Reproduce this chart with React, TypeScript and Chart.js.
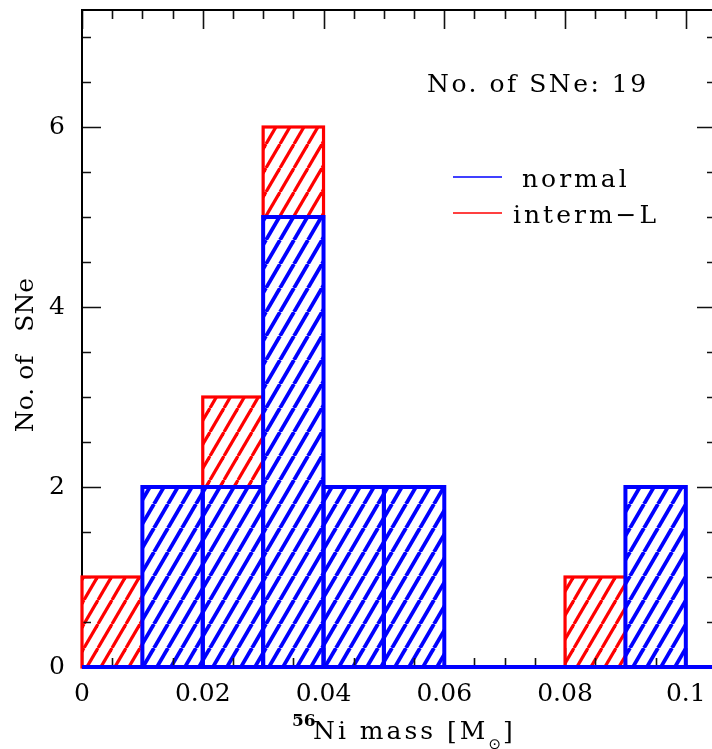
import React, { useEffect, useRef } from "react";
import { Chart, registerables } from "chart.js";

Chart.register(...registerables);

// ---- data ----
const binCenters = [0.005, 0.015, 0.025, 0.035, 0.045, 0.055, 0.065, 0.075, 0.085, 0.095];
const normalCounts = [0, 2, 2, 5, 2, 2, 0, 0, 0, 2];
const intermLCounts = [1, 0, 1, 1, 0, 0, 0, 0, 1, 0];
const xTickValues = [0, 0.02, 0.04, 0.06, 0.08, 0.1];
const xTickLabels = ["0", "0.02", "0.04", "0.06", "0.08", "0.1"];
const yTickValues = [0, 2, 4, 6];
const yTickLabels = ["0", "2", "4", "6"];
const seriesNames = ["normal", "interm\u2212L"];
const totalLabel = "No. of SNe: 19";
const yTitle = "No. of   SNe";

const X_MIN = 0;
const X_MAX = 0.105;
const Y_MIN = 0;
const Y_MAX = 7.3;
const X_MINOR = 0.005;
const Y_MINOR = 0.5;

const BLUE = "#0000ff";
const RED = "#ff0000";
const SERIF = "'DejaVu Serif', serif";

function makeHatch(color: string, lw: number): CanvasPattern | string {
  const c = document.createElement("canvas");
  c.width = 14;
  c.height = 24;
  const g = c.getContext("2d");
  if (!g) return color;
  g.strokeStyle = color;
  g.lineWidth = lw;
  for (const dx of [-14, 0, 14]) {
    g.beginPath();
    g.moveTo(dx, 24);
    g.lineTo(dx + 14, 0);
    g.stroke();
  }
  return g.createPattern(c, "repeat") || color;
}

const framePlugin = {
  id: "frameAndOutlines",
  afterDatasetsDraw(chart: any) {
    const ctx = chart.ctx as CanvasRenderingContext2D;
    const xs = chart.scales.x;
    const ys = chart.scales.y;
    const { left, right, top, bottom } = chart.chartArea;
    ctx.save();
    // ticks
    ctx.strokeStyle = "#111";
    ctx.lineWidth = 1.6;
    const nx = Math.round((X_MAX - X_MIN) / X_MINOR);
    for (let i = 0; i <= nx; i++) {
      const v = X_MIN + i * X_MINOR;
      const px = Math.round(xs.getPixelForValue(v)) + 0.5;
      const L = i % 4 === 0 ? 19 : 9;
      ctx.beginPath();
      ctx.moveTo(px, bottom);
      ctx.lineTo(px, bottom - L);
      ctx.moveTo(px, top);
      ctx.lineTo(px, top + L);
      ctx.stroke();
    }
    const ny = Math.floor((Y_MAX - Y_MIN) / Y_MINOR);
    for (let i = 0; i <= ny; i++) {
      const v = Y_MIN + i * Y_MINOR;
      const py = Math.round(ys.getPixelForValue(v)) + 0.5;
      const L = i % 4 === 0 ? 19 : 9;
      ctx.beginPath();
      ctx.moveTo(left, py);
      ctx.lineTo(left + L, py);
      ctx.moveTo(right, py);
      ctx.lineTo(right - L, py);
      ctx.stroke();
    }
    // frame
    ctx.strokeStyle = "#000";
    ctx.lineWidth = 2;
    ctx.strokeRect(left, top, right - left, bottom - top);

    // outlines: red first, then blue on top
    const order = [1, 0];
    const colors = [BLUE, RED];
    const widths = [4, 3.2];
    for (const di of order) {
      const meta = chart.getDatasetMeta(di);
      ctx.strokeStyle = colors[di];
      ctx.lineWidth = widths[di];
      meta.data.forEach((el: any, i: number) => {
        const raw = chart.data.datasets[di].data[i] as any;
        if (!raw || !raw.y) return;
        const p = el.getProps(["x", "y", "base", "width"], true);
        ctx.strokeRect(p.x - p.width / 2, p.y, p.width, p.base - p.y);
      });
    }
    // blue baseline of the "normal" histogram
    const y0 = ys.getPixelForValue(0);
    ctx.strokeStyle = BLUE;
    ctx.lineWidth = 4;
    ctx.beginPath();
    ctx.moveTo(left, y0);
    ctx.lineTo(right, y0);
    ctx.stroke();
    ctx.restore();
  },
};

function spaced(ctx: any, text: string, x: number, y: number, ls: number) {
  ctx.letterSpacing = ls + "px";
  ctx.fillText(text, x, y);
  const w = ctx.measureText(text).width;
  ctx.letterSpacing = "0px";
  return w;
}

const textPlugin = {
  id: "texts",
  afterDraw(chart: any) {
    const ctx = chart.ctx as any;
    ctx.save();
    ctx.fillStyle = "#000";
    ctx.textAlign = "left";
    ctx.textBaseline = "alphabetic";
    ctx.font = `25px ${SERIF}`;
    spaced(ctx, totalLabel, 427, 92, 2.5);

    // legend
    const legendColors = [BLUE, RED];
    const legendY = [177, 213];
    const legendTextX = [522, 513];
    for (let i = 0; i < seriesNames.length; i++) {
      ctx.strokeStyle = legendColors[i];
      ctx.lineWidth = 1.5;
      ctx.beginPath();
      ctx.moveTo(453, legendY[i]);
      ctx.lineTo(502, legendY[i]);
      ctx.stroke();
      ctx.font = `25px ${SERIF}`;
      spaced(ctx, seriesNames[i], legendTextX[i], legendY[i] + 10, 3);
    }

    // x title
    ctx.font = `bold 17px ${SERIF}`;
    ctx.fillText("56", 292, 726);
    ctx.font = `25px ${SERIF}`;
    let x = 313;
    x += spaced(ctx, "Ni mass [M", x, 739, 3);
    ctx.font = `15px 'DejaVu Sans', sans-serif`;
    ctx.fillText("\u2299", x, 749);
    x += ctx.measureText("\u2299").width + 2;
    ctx.font = `25px ${SERIF}`;
    ctx.fillText("]", x, 739);

    // y title
    ctx.translate(33, 355);
    ctx.rotate(-Math.PI / 2);
    ctx.textAlign = "center";
    ctx.font = `25px ${SERIF}`;
    ctx.fillText(yTitle, 0, 0);
    ctx.restore();
  },
};

export default function App() {
  const ref = useRef<HTMLCanvasElement | null>(null);
  useEffect(() => {
    if (!ref.current) return;
    const blueHatch = makeHatch(BLUE, 3.8);
    const redHatch = makeHatch(RED, 3.2);
    const chart = new Chart(ref.current, {
      type: "bar",
      data: {
        datasets: [
          {
            label: seriesNames[0],
            data: binCenters.map((x, i) => ({ x, y: normalCounts[i] })),
            backgroundColor: blueHatch as any,
            borderWidth: 0,
            stack: "s",
            barPercentage: 1,
            categoryPercentage: 1,
          },
          {
            label: seriesNames[1],
            data: binCenters.map((x, i) => ({ x, y: intermLCounts[i] })),
            backgroundColor: redHatch as any,
            borderWidth: 0,
            stack: "s",
            barPercentage: 1,
            categoryPercentage: 1,
          },
        ],
      } as any,
      options: {
        animation: false,
        responsive: false,
        devicePixelRatio: 1,
        layout: { padding: { top: 10, right: 14, left: 0, bottom: 0 } },
        plugins: { legend: { display: false }, tooltip: { enabled: false } },
        scales: {
          x: {
            type: "linear",
            offset: false,
            min: X_MIN,
            max: X_MAX,
            grid: { display: false, drawTicks: false, offset: false },
            border: { display: false },
            afterBuildTicks: (s: any) => {
              s.ticks = xTickValues.map((v) => ({ value: v }));
            },
            afterFit: (s: any) => {
              s.height = 82;
              s.paddingLeft = 0;
              s.paddingRight = 0;
            },
            ticks: {
              autoSkip: false,
              maxRotation: 0,
              padding: 12,
              color: "#000",
              font: { family: SERIF, size: 25 },
              callback: (v: any) => {
                const i = xTickValues.findIndex((t) => Math.abs(t - v) < 1e-9);
                return i >= 0 ? xTickLabels[i] : "";
              },
            },
          },
          y: {
            type: "linear",
            stacked: true,
            min: Y_MIN,
            max: Y_MAX,
            grid: { display: false, drawTicks: false },
            border: { display: false },
            afterBuildTicks: (s: any) => {
              s.ticks = yTickValues.map((v) => ({ value: v }));
            },
            afterFit: (s: any) => {
              s.width = 82;
              s.paddingTop = 0;
              s.paddingBottom = 0;
            },
            ticks: {
              autoSkip: false,
              padding: 17,
              color: "#000",
              font: { family: SERIF, size: 25 },
              callback: (v: any) => {
                const i = yTickValues.findIndex((t) => Math.abs(t - v) < 1e-9);
                return i >= 0 ? yTickLabels[i] : "";
              },
            },
          },
        },
      } as any,
      plugins: [framePlugin, textPlugin],
    });
    return () => chart.destroy();
  }, []);
  return (
    <div
      style={{
        position: "fixed",
        left: 0,
        top: 0,
        width: 712,
        height: 749,
        overflow: "hidden",
        background: "#fff",
      }}
    >
      <canvas ref={ref} width={730} height={749} style={{ display: "block" }} />
    </div>
  );
}
